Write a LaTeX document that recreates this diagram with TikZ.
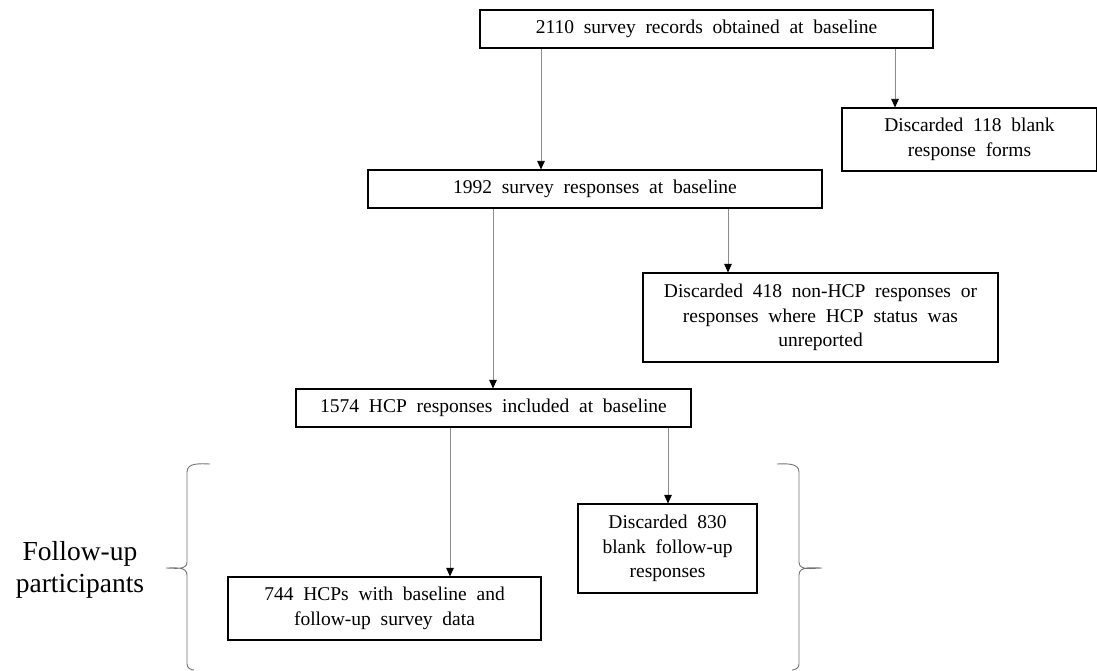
\documentclass[tikz,border=0pt]{standalone}
\usepackage{fontspec}
\setmainfont[WordSpace=2]{Liberation Serif}
\usetikzlibrary{arrows.meta}

\tikzset{
  box/.style={draw=black, line width=1.1pt, align=center, inner sep=2pt,
    font=\fontsize{19.5}{24.5}\selectfont},
  arr/.style={draw=black!45, line width=0.8pt,
    -{Triangle[width=7.5pt,length=8.5pt,color=black]}},
  brace/.style={draw=black!55, line width=0.9pt}
}

\begin{document}
\begin{tikzpicture}[x=1pt,y=-1pt]
    \useasboundingbox (0,0) rectangle (1097,671);

    % boxes
    \node[box, minimum width=453pt, minimum height=38pt] (b1) at (706.5,29) {2110 survey records obtained at baseline};
    \node[box, minimum width=255pt, minimum height=63pt] (b2) at (969.5,139.5) {Discarded 118 blank\\response forms};
    \node[box, minimum width=454pt, minimum height=38pt] (b3) at (595,189) {1992 survey responses at baseline};
    \node[box, minimum width=355pt, minimum height=89pt] (b4) at (820.5,317.5) {Discarded 418 non-HCP responses or\\responses where HCP status was\\unreported};
    \node[box, minimum width=395pt, minimum height=38pt] (b5) at (493.5,408) {1574 HCP responses included at baseline};
    \node[box, minimum width=179pt, minimum height=89pt] (b6) at (667.5,548.5) {Discarded 830\\blank follow-up\\responses};
    \node[box, minimum width=313pt, minimum height=63pt] (b7) at (384.5,608.5) {744 HCPs with baseline and\\follow-up survey data};

    \node[font=\fontsize{27.5}{32}\selectfont, align=center] (fu) at (80,570) {Follow-up\\participants};

    % arrows
    \coordinate (a1) at ([xshift=-165.5pt]b1.south);
    \coordinate (a2) at ([xshift=188.5pt]b1.south);
    \coordinate (a3) at ([xshift=-102pt]b3.south);
    \coordinate (a4) at ([xshift=133pt]b3.south);
    \coordinate (a5) at ([xshift=-43.5pt]b5.south);
    \coordinate (a6) at ([xshift=174.5pt]b5.south);
    \draw[arr] (a1) -- (a1 |- b3.north);
    \draw[arr] (a2) -- (a2 |- b2.north);
    \draw[arr] (a3) -- (a3 |- b5.north);
    \draw[arr] (a4) -- (a4 |- b4.north);
    \draw[arr] (a5) -- (a5 |- b7.north);
    \draw[arr] (a6) -- (a6 |- b6.north);

    % braces
    \draw[brace] (210,464) to[out=178,in=90] (187,472) -- (187,562)
      to[out=-90,in=0] (166,568) to[out=0,in=90] (187,575) -- (187,664)
      to[out=-90,in=180] (194,670);
    \draw[brace] (777,464) to[out=2,in=90] (799,472) -- (799,562)
      to[out=-90,in=180] (822,568) to[out=180,in=90] (799,575) -- (799,664)
      to[out=-90,in=0] (792,670);
  \end{tikzpicture}
\end{document}
